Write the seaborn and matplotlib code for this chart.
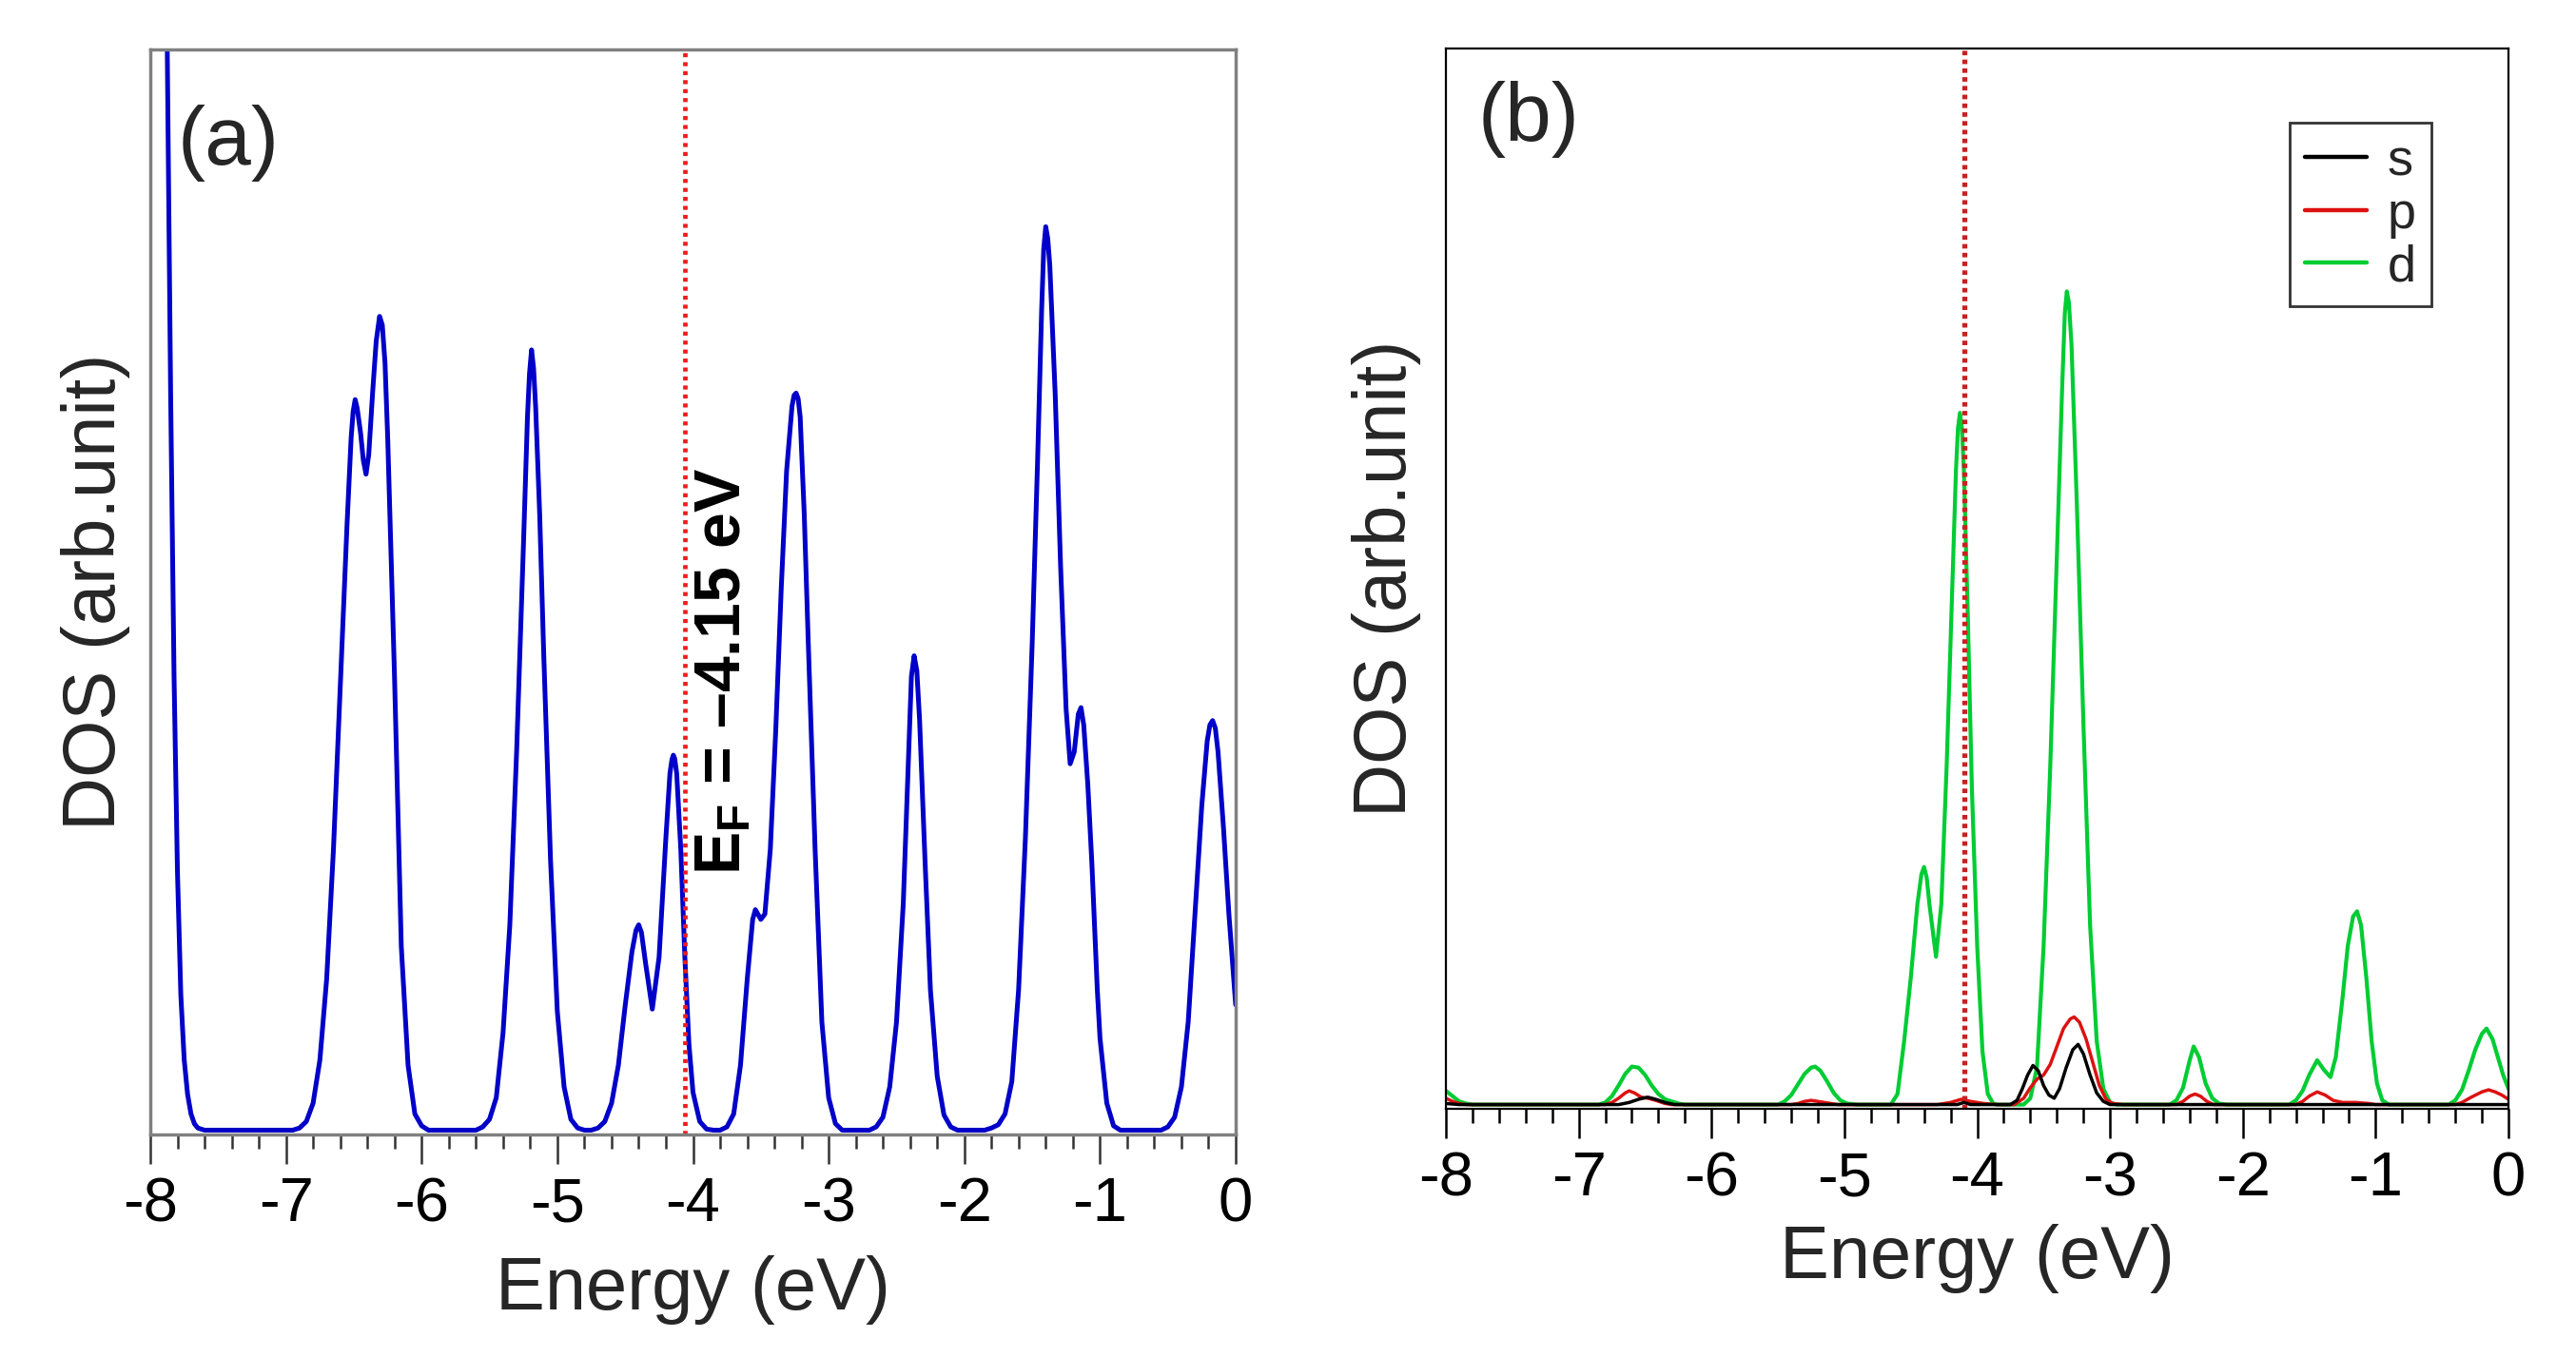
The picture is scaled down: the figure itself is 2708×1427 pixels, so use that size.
import numpy as np
import pandas as pd
import seaborn as sns
import matplotlib
matplotlib.use('Agg')
import matplotlib.pyplot as plt
from matplotlib.ticker import MultipleLocator

# ---------------- data ----------------
# Panel (a): total DOS, values as fraction of the axis height
energy_a = [-8.00, -7.95, -7.90, -7.875, -7.85, -7.825, -7.80, -7.775, -7.75, -7.725, -7.70, -7.675, -7.65, -7.60,
            -6.95, -6.90, -6.85, -6.80, -6.75, -6.70, -6.65, -6.60, -6.55, -6.52, -6.505, -6.49, -6.475, -6.45,
            -6.43, -6.41, -6.39, -6.36, -6.335, -6.31, -6.29, -6.27, -6.25, -6.20, -6.15, -6.10, -6.05, -6.00, -5.95,
            -5.60, -5.55, -5.50, -5.45, -5.40, -5.35, -5.30, -5.25, -5.22, -5.205, -5.19, -5.175, -5.16, -5.13,
            -5.10, -5.05, -5.00, -4.95, -4.90, -4.85, -4.80,
            -4.75, -4.70, -4.65, -4.60, -4.55, -4.50, -4.45, -4.42, -4.40, -4.38, -4.35, -4.30, -4.25, -4.20,
            -4.17, -4.155, -4.145, -4.135, -4.12, -4.09, -4.06, -4.03, -4.00, -3.95, -3.90, -3.85,
            -3.80, -3.75, -3.70, -3.65, -3.60, -3.56, -3.54, -3.50, -3.47, -3.43, -3.39, -3.35, -3.31, -3.27,
            -3.255, -3.24, -3.225, -3.21, -3.18, -3.15, -3.10, -3.05, -3.00, -2.95, -2.90,
            -2.70, -2.65, -2.60, -2.55, -2.50, -2.45, -2.41, -2.39, -2.37, -2.35, -2.33, -2.29, -2.25, -2.20,
            -2.15, -2.10, -2.05,
            -1.85, -1.80, -1.75, -1.70, -1.65, -1.60, -1.55, -1.50, -1.46, -1.43, -1.415, -1.40, -1.385, -1.37,
            -1.33, -1.29, -1.25, -1.22, -1.19, -1.16, -1.14, -1.12, -1.09, -1.06, -1.02, -1.00, -0.95, -0.90, -0.85,
            -0.55, -0.50, -0.45, -0.40, -0.35, -0.30, -0.25, -0.21, -0.19, -0.17, -0.15, -0.13, -0.09, -0.05, 0.00]
dos_a = [3.0, 2.0, 1.25, 1.0, 0.68, 0.42, 0.24, 0.125, 0.065, 0.033, 0.015, 0.006, 0.002, 0.0,
         0.0, 0.002, 0.008, 0.025, 0.065, 0.14, 0.26, 0.41, 0.56, 0.64, 0.665, 0.676, 0.668, 0.645,
         0.62, 0.607, 0.625, 0.685, 0.73, 0.753, 0.745, 0.71, 0.64, 0.42, 0.17, 0.06, 0.015, 0.004, 0.0,
         0.0, 0.003, 0.01, 0.03, 0.09, 0.19, 0.35, 0.54, 0.66, 0.70, 0.722, 0.705, 0.67, 0.57,
         0.44, 0.25, 0.11, 0.04, 0.01, 0.002, 0.0,
         0.0, 0.002, 0.008, 0.025, 0.06, 0.115, 0.165, 0.185, 0.19, 0.183, 0.155, 0.112, 0.16, 0.27,
         0.33, 0.343, 0.347, 0.344, 0.33, 0.26, 0.16, 0.08, 0.035, 0.008, 0.001, 0.0,
         0.0, 0.003, 0.015, 0.06, 0.14, 0.195, 0.204, 0.195, 0.2, 0.26, 0.37, 0.50, 0.61, 0.67,
         0.68, 0.682, 0.677, 0.66, 0.57, 0.45, 0.26, 0.10, 0.03, 0.006, 0.0,
         0.0, 0.003, 0.012, 0.04, 0.10, 0.21, 0.35, 0.42, 0.439, 0.425, 0.38, 0.25, 0.13, 0.05,
         0.014, 0.003, 0.0,
         0.0, 0.002, 0.005, 0.015, 0.045, 0.13, 0.27, 0.45, 0.62, 0.76, 0.815, 0.836, 0.825, 0.80,
         0.68, 0.52, 0.39, 0.339, 0.35, 0.385, 0.391, 0.375, 0.32, 0.247, 0.13, 0.085, 0.025, 0.004, 0.0,
         0.0, 0.003, 0.012, 0.04, 0.10, 0.20, 0.30, 0.36, 0.375, 0.379, 0.372, 0.35, 0.28, 0.20, 0.116]

# Panel (b): partial DOS (s, p, d)
energy_s = [-8.00, -7.90, -6.70, -6.62, -6.55, -6.48, -6.42, -6.35, -6.28, -4.15, -4.10, -4.05,
            -3.75, -3.70, -3.66, -3.62, -3.58, -3.54, -3.50, -3.46, -3.42, -3.38, -3.33, -3.28, -3.24,
            -3.20, -3.15, -3.10, -3.05, -3.00, 0.00]
dos_s = [0.001, 0.0, 0.0, 0.002, 0.005, 0.007, 0.005, 0.002, 0.0, 0.0, 0.002, 0.0,
         0.0, 0.004, 0.015, 0.028, 0.037, 0.032, 0.018, 0.009, 0.006, 0.015, 0.035, 0.052, 0.057,
         0.048, 0.028, 0.011, 0.003, 0.0, 0.0]

energy_p = [-8.00, -7.95, -7.90, -7.85, -6.80, -6.75, -6.70, -6.65, -6.62, -6.58, -6.53, -6.48, -6.42, -6.35,
            -6.30, -5.40, -5.35, -5.30, -5.25, -5.20, -5.15, -5.05, -4.30, -4.20, -4.12, -4.05, -3.95, -3.85,
            -3.72, -3.65, -3.60, -3.55, -3.50, -3.45, -3.40, -3.35, -3.30, -3.27, -3.23, -3.18, -3.13, -3.08,
            -3.03, -2.98, -2.90, -2.50, -2.45, -2.40, -2.36, -2.32, -2.27, -2.22, -1.60, -1.55, -1.50, -1.44,
            -1.38, -1.32, -1.25, -1.15, -1.05, -1.00, -0.40, -0.35, -0.28, -0.20, -0.15, -0.10, -0.05, 0.00]
dos_p = [0.006, 0.003, 0.001, 0.0, 0.0, 0.002, 0.006, 0.011, 0.013, 0.011, 0.007, 0.006, 0.004, 0.001,
         0.0, 0.0, 0.001, 0.003, 0.004, 0.003, 0.002, 0.0, 0.0, 0.002, 0.005, 0.003, 0.001, 0.0,
         0.0, 0.006, 0.016, 0.024, 0.028, 0.038, 0.055, 0.072, 0.081, 0.083, 0.078, 0.062, 0.040, 0.018,
         0.005, 0.001, 0.0, 0.0, 0.003, 0.008, 0.010, 0.008, 0.003, 0.0, 0.0, 0.003, 0.008, 0.012,
         0.009, 0.004, 0.002, 0.002, 0.001, 0.0, 0.0, 0.002, 0.007, 0.012, 0.014, 0.012, 0.009, 0.005]

energy_d = [-8.00, -7.95, -7.90, -7.85, -7.80, -6.85, -6.80, -6.75, -6.70, -6.65, -6.60, -6.55, -6.50, -6.45,
            -6.40, -6.35, -6.30, -6.25, -6.20, -5.50, -5.45, -5.40, -5.35, -5.30, -5.25, -5.22, -5.18, -5.13,
            -5.08, -5.03, -4.98, -4.90, -4.65, -4.60, -4.55, -4.50, -4.45, -4.42, -4.40, -4.38, -4.36, -4.31,
            -4.27, -4.23, -4.19, -4.16, -4.145, -4.13, -4.115, -4.10, -4.07, -4.04, -4.00, -3.96, -3.92, -3.88,
            -3.85, -3.65, -3.60, -3.55, -3.50, -3.45, -3.40, -3.36, -3.34, -3.325, -3.31, -3.29, -3.25, -3.20,
            -3.15, -3.10, -3.05, -3.00, -2.95, -2.55,
            -2.50, -2.45, -2.40, -2.37, -2.33, -2.28, -2.23, -2.18, -2.12, -1.65, -1.60, -1.55, -1.50, -1.44,
            -1.39, -1.34, -1.30, -1.25, -1.21, -1.17, -1.14, -1.11, -1.07, -1.03, -0.99, -0.95, -0.90, -0.45,
            -0.40, -0.35, -0.30, -0.25, -0.20, -0.165, -0.12, -0.08, -0.04, 0.00]
dos_d = [0.013, 0.008, 0.003, 0.001, 0.0, 0.0, 0.002, 0.008, 0.018, 0.029, 0.036, 0.035, 0.028, 0.018,
         0.010, 0.005, 0.003, 0.001, 0.0, 0.0, 0.003, 0.009, 0.019, 0.029, 0.035, 0.036, 0.032, 0.022,
         0.011, 0.004, 0.001, 0.0, 0.0, 0.01, 0.06, 0.12, 0.19, 0.218, 0.225, 0.215, 0.19, 0.14,
         0.19, 0.32, 0.48, 0.60, 0.64, 0.655, 0.64, 0.60, 0.46, 0.30, 0.15, 0.05, 0.01, 0.001,
         0.0, 0.0, 0.006, 0.035, 0.15, 0.32, 0.52, 0.68, 0.75, 0.77, 0.76, 0.72, 0.57, 0.36,
         0.17, 0.06, 0.015, 0.002, 0.0, 0.0,
         0.004, 0.016, 0.042, 0.055, 0.045, 0.02, 0.006, 0.001, 0.0, 0.0, 0.004, 0.013, 0.028, 0.042,
         0.033, 0.026, 0.045, 0.10, 0.15, 0.178, 0.183, 0.17, 0.12, 0.06, 0.02, 0.004, 0.0, 0.0,
         0.004, 0.014, 0.032, 0.052, 0.067, 0.072, 0.062, 0.045, 0.028, 0.015]

fermi_a = -4.06
fermi_b = -4.10
xticks = [-8, -7, -6, -5, -4, -3, -2, -1, 0]
xticklabels = ['-8', '-7', '-6', '-5', '-4', '-3', '-2', '-1', '0']

# ---------------- style ----------------
sns.set_style('white')
plt.rcParams['font.family'] = ['Liberation Sans', 'DejaVu Sans']
plt.rcParams['axes.unicode_minus'] = False
plt.rcParams['mathtext.fontset'] = 'custom'
plt.rcParams['mathtext.rm'] = 'Liberation Sans'
plt.rcParams['mathtext.bf'] = 'Liberation Sans:bold'
plt.rcParams['mathtext.it'] = 'Liberation Sans:italic'
plt.rcParams['lines.solid_joinstyle'] = 'round'
plt.rcParams['lines.solid_capstyle'] = 'round'

W, H = 2708, 1427
fig = plt.figure(figsize=(W / 100, H / 100), dpi=100)
axa = fig.add_axes([158 / W, (H - 1193) / H, (1299 - 158) / W, (1193 - 52) / H])
axb = fig.add_axes([1520 / W, (H - 1166) / H, (2637 - 1520) / W, (1166 - 51) / H])

# ---------------- panel (a) ----------------
sns.lineplot(x=energy_a, y=dos_a, ax=axa, color='#0000c8', lw=3.6, sort=False, estimator=None)
axa.axvline(fermi_a, color='#ee1c1c', lw=3.4, ls=(0, (0.9, 1.1)))
axa.text(-3.78, 0.425, r'$\mathbf{E_F}$ = –4.15 eV', rotation=90, ha='center', va='center',
         fontsize=49, fontweight='bold', color='black')
axa.text(0.025, 0.914, '(a)', transform=axa.transAxes, fontsize=63, ha='left', va='center')

# ---------------- panel (b) ----------------
sns.lineplot(x=energy_d, y=dos_d, ax=axb, color='#00cc33', lw=3.0, sort=False, estimator=None, label='d')
sns.lineplot(x=energy_p, y=dos_p, ax=axb, color='#dd1111', lw=2.5, sort=False, estimator=None, label='p')
sns.lineplot(x=energy_s, y=dos_s, ax=axb, color='black', lw=2.5, sort=False, estimator=None, label='s')
axb.axvline(fermi_b, color='#cc1f1f', lw=3.8, ls=(0, (0.9, 0.85)))
axb.text(0.03, 0.933, '(b)', transform=axb.transAxes, fontsize=63, ha='left', va='center')

handles, labels = axb.get_legend_handles_labels()
order = [labels.index(k) for k in ['s', 'p', 'd']]
leg = axb.legend([handles[i] for i in order], [labels[i] for i in order],
                 loc='upper right', bbox_to_anchor=(0.9275, 0.930), borderaxespad=0,
                 fontsize=39, frameon=True, fancybox=False, handlelength=1.2, handletextpad=0.4,
                 labelspacing=0.1, borderpad=0.3)
leg.get_frame().set_edgecolor('black')
leg.get_frame().set_linewidth(2.0)
for lh in leg.get_lines():
    lh.set_linewidth(3.2)

# ---------------- axes formatting ----------------
for ax, spc, tkc, ylpad, xlpad in [(axa, '#808080', '#333333', 15, 16), (axb, 'black', 'black', 19, 12)]:
    ax.set_xlim(-8, 0)
    ax.set_ylim(-0.004, 1.0)
    ax.set_xticks(xticks)
    ax.set_xticklabels(xticklabels)
    ax.xaxis.set_minor_locator(MultipleLocator(0.2))
    ax.set_yticks([])
    ax.tick_params(axis='x', which='major', direction='out', length=22, width=1.8, colors=tkc,
                   labelsize=47, labelcolor='black', pad=10, bottom=True)
    ax.tick_params(axis='x', which='minor', direction='out', length=11, width=1.8, colors=tkc, bottom=True)
    for s in ax.spines.values():
        s.set_visible(True)
        s.set_color(spc)
        s.set_linewidth(2.5 if ax is axa else 1.6)
    ax.set_xlabel('Energy (eV)', fontsize=56, labelpad=xlpad)
    ax.set_ylabel('DOS (arb.unit)', fontsize=56, labelpad=ylpad)

fig.savefig('out.png', dpi=100)
